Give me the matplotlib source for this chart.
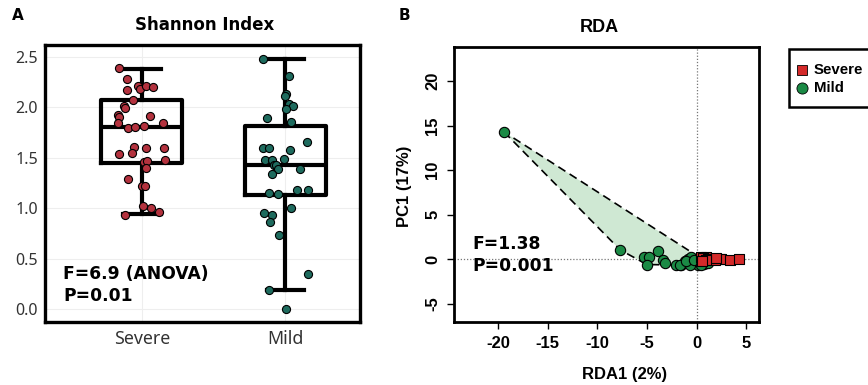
import numpy as np
import matplotlib
matplotlib.use("Agg")
import matplotlib.pyplot as plt
from matplotlib.patches import Polygon, Rectangle

# ---------------- Panel A data (Shannon index) ----------------
categories = ["Severe", "Mild"]
severe_shannon = [2.39, 2.28, 2.17, 2.21, 2.18, 2.21, 2.20, 2.07, 2.01, 1.99, 1.92, 1.90,
                  1.91, 1.84, 1.79, 1.80, 1.81, 1.84, 1.61, 1.60, 1.60, 1.54, 1.55, 1.46,
                  1.47, 1.48, 1.40, 1.29, 1.22, 1.22, 1.02, 1.00, 0.96, 0.93]
severe_jitter = [-0.163, -0.105, -0.105, -0.024, -0.012, 0.028, 0.077, -0.059, -0.128, -0.121,
                 -0.167, -0.163, 0.053, -0.170, -0.098, -0.047, 0.016, 0.147, -0.052, 0.028,
                 0.156, -0.163, -0.070, 0.011, 0.035, 0.163, 0.028, -0.098, 0.000, 0.023,
                 0.007, 0.065, 0.116, -0.121]
mild_shannon = [2.48, 2.31, 2.13, 2.11, 2.03, 2.01, 1.98, 1.89, 1.85, 1.66, 1.60, 1.60,
                1.58, 1.49, 1.48, 1.48, 1.43, 1.43, 1.39, 1.39, 1.34, 1.15, 1.14, 1.18,
                1.18, 1.00, 0.95, 0.93, 0.86, 0.74, 0.35, 0.19, 0.00]
mild_jitter = [-0.151, 0.026, 0.007, 0.000, 0.026, 0.053, 0.005, -0.128, 0.040, 0.151,
               -0.151, -0.116, 0.035, -0.007, -0.140, -0.093, -0.081, -0.063, -0.047, 0.105,
               -0.093, -0.114, -0.053, 0.086, 0.163, 0.042, -0.144, -0.093, -0.105, -0.044,
               0.163, -0.114, 0.007]
box_q1 = [1.45, 1.13]
box_median = [1.80, 1.43]
box_q3 = [2.07, 1.81]
box_whisker_lo = [0.94, 0.19]
box_whisker_hi = [2.38, 2.48]
shannon_ticks = [0.0, 0.5, 1.0, 1.5, 2.0, 2.5]

# ---------------- Panel B data (RDA) ----------------
mild_rda1 = [-19.4, -7.7, -5.3, -4.8, -3.84, -5.0, -3.4, -3.2, -2.05, -1.55, -1.2, -0.9,
             -0.54, -0.2, 0.3, 0.8, 1.15, 0.13, -0.7, -1.7, -1.04, -0.3, 0.5]
mild_pc1 = [14.3, 1.05, 0.3, 0.2, 0.87, -0.6, -0.05, -0.4, -0.6, -0.6, -0.25, 0.05,
            0.3, -0.4, -0.25, -0.5, -0.4, -0.7, -0.6, -0.6, -0.24, -0.1, -0.6]
severe_rda1 = [0.47, 0.98, 1.5, 1.65, 2.33, 2.5, 3.34, 4.28, 0.7, 1.2, 1.9, 2.0, 1.0, 0.6]
severe_pc1 = [0.24, 0.24, 0.05, 0.05, 0.05, 0.0, -0.05, 0.05, 0.1, 0.0, -0.05, 0.1, -0.1, -0.15]
rda_xticks = [-20, -15, -10, -5, 0, 5]
rda_yticks = [-5, 0, 5, 10, 15, 20]
legend_labels = ["Severe", "Mild"]

col_sev_a = "#b3323e"
col_mild_a = "#1e6b5e"
col_sev_b = "#d42a2a"
col_mild_b = "#1b8a45"

W, H = 868, 385
fig = plt.figure(figsize=(W / 100, H / 100), dpi=100)
fig.patch.set_facecolor("white")

def fx(px):
    return px / W

def fy(py):
    return 1 - py / H

BOLD = "DejaVu Sans"

# ================= Panel A =================
axA = fig.add_axes([fx(45), fy(322), (360 - 45) / W, (322 - 45) / H])
axA.set_xlim(-0.677, 1.523)
axA.set_ylim(-0.126, 2.616)
for y in shannon_ticks:
    axA.axhline(y, color="#eeeeee", lw=0.8, zorder=0)
for x in range(len(categories)):
    axA.axvline(x, color="#eeeeee", lw=0.8, zorder=0)

stats = []
for i in range(len(categories)):
    stats.append(dict(med=box_median[i], q1=box_q1[i], q3=box_q3[i],
                      whislo=box_whisker_lo[i], whishi=box_whisker_hi[i], fliers=[]))
lwb = 3.0
axA.bxp(stats, positions=list(range(len(categories))), widths=0.565, capwidths=0.26,
        showfliers=False, patch_artist=False,
        boxprops=dict(color="black", lw=lwb),
        whiskerprops=dict(color="black", lw=lwb),
        capprops=dict(color="black", lw=lwb),
        medianprops=dict(color="black", lw=lwb),
        manage_ticks=False)

axA.scatter(np.array(severe_jitter) + 0, severe_shannon, s=34, c=col_sev_a,
            edgecolors="black", linewidths=0.8, zorder=4)
axA.scatter(np.array(mild_jitter) + 1, mild_shannon, s=34, c=col_mild_a,
            edgecolors="black", linewidths=0.8, zorder=4)

axA.set_xticks(range(len(categories)))
axA.set_xticklabels(categories)
axA.set_yticks(shannon_ticks)
axA.set_yticklabels([f"{v:.1f}" for v in shannon_ticks])
axA.tick_params(length=0, labelsize=11.5, colors="#333333", pad=5)
axA.tick_params(axis="x", labelsize=12.8, pad=6)
for lab in axA.get_xticklabels() + axA.get_yticklabels():
    lab.set_fontfamily("Noto Sans")
for sp in axA.spines.values():
    sp.set_linewidth(2.4)
    sp.set_color("black")

axA.text(0.058, 0.175, "F=6.9 (ANOVA)", transform=axA.transAxes, fontsize=12.3,
         fontweight="bold", family=BOLD, va="center", ha="left")
axA.text(0.058, 0.095, "P=0.01", transform=axA.transAxes, fontsize=12.3,
         fontweight="bold", family=BOLD, va="center", ha="left")

fig.text(fx(205), fy(25), "Shannon Index", ha="center", va="center", fontsize=12,
         fontweight="bold", family=BOLD)
fig.text(fx(12), fy(15), "A", ha="left", va="center", fontsize=11,
         fontweight="bold", family=BOLD)

# ================= Panel B =================
axB = fig.add_axes([fx(454), fy(322), (759 - 454) / W, (322 - 47) / H])
axB.set_xlim(-24.45, 6.3)
axB.set_ylim(-7.06, 23.85)
axB.axhline(0, color="#777777", lw=0.9, ls=(0, (1, 1.5)), zorder=1)
axB.axvline(0, color="#777777", lw=0.9, ls=(0, (1, 1.5)), zorder=1)

def convex_hull(xs, ys):
    pts = sorted(set(zip(xs, ys)))
    def cross(o, a, b):
        return (a[0] - o[0]) * (b[1] - o[1]) - (a[1] - o[1]) * (b[0] - o[0])
    lower, upper = [], []
    for p in pts:
        while len(lower) >= 2 and cross(lower[-2], lower[-1], p) <= 0:
            lower.pop()
        lower.append(p)
    for p in reversed(pts):
        while len(upper) >= 2 and cross(upper[-2], upper[-1], p) <= 0:
            upper.pop()
        upper.append(p)
    return lower[:-1] + upper[:-1]

hull = convex_hull(mild_rda1, mild_pc1)
axB.add_patch(Polygon(hull, closed=True, facecolor="#cfe8d3", edgecolor="none", zorder=2))
axB.add_patch(Polygon(hull, closed=True, facecolor="none", edgecolor="black",
                      lw=1.2, ls=(0, (5, 3)), zorder=2.5))

axB.scatter(mild_rda1, mild_pc1, s=55, marker="o", c=col_mild_b, edgecolors="black",
            linewidths=0.8, zorder=3)
axB.scatter(severe_rda1, severe_pc1, s=48, marker="s", c=col_sev_b, edgecolors="black",
            linewidths=0.8, zorder=4)

axB.set_xticks(rda_xticks)
axB.set_xticklabels([str(v) for v in rda_xticks])
axB.set_yticks(rda_yticks)
axB.set_yticklabels([str(v) for v in rda_yticks], rotation=90, va="center")
axB.tick_params(direction="out", length=5, width=1.0, labelsize=12, pad=5)
for lab in axB.get_xticklabels() + axB.get_yticklabels():
    lab.set_fontfamily("Liberation Sans")
    lab.set_fontweight("bold")
for sp in axB.spines.values():
    sp.set_linewidth(2.0)
    sp.set_color("black")

axB.text(0.06, 0.285, "F=1.38", transform=axB.transAxes, fontsize=12.3,
         fontweight="bold", family=BOLD, va="center", ha="left")
axB.text(0.06, 0.205, "P=0.001", transform=axB.transAxes, fontsize=12.3,
         fontweight="bold", family=BOLD, va="center", ha="left")

fig.text(fx(599), fy(28), "RDA", ha="center", va="center", fontsize=13,
         fontweight="bold", family="Liberation Sans")
fig.text(fx(625), fy(375), "RDA1 (2%)", ha="center", va="center", fontsize=12,
         fontweight="bold", family="Liberation Sans")
fig.text(fx(405), fy(186), "PC1 (17%)", ha="center", va="center", fontsize=12,
         fontweight="bold", family="Liberation Sans", rotation=90)
fig.text(fx(399), fy(15), "B", ha="left", va="center", fontsize=11,
         fontweight="bold", family=BOLD)

# Legend (frame runs off the right edge as in the reference)
fig.add_artist(Rectangle((fx(789), fy(107)), fx(120), (107 - 49) / H, transform=fig.transFigure,
                         facecolor="white", edgecolor="black", lw=1.8, clip_on=True))
fig.add_artist(plt.Line2D([fx(802)], [fy(70)], marker="s", markersize=7, ls="none",
                          markerfacecolor=col_sev_b, markeredgecolor="black",
                          markeredgewidth=0.6, transform=fig.transFigure))
fig.add_artist(plt.Line2D([fx(802)], [fy(88)], marker="o", markersize=8, ls="none",
                          markerfacecolor=col_mild_b, markeredgecolor="black",
                          markeredgewidth=0.6, transform=fig.transFigure))
fig.text(fx(814), fy(70), legend_labels[0], ha="left", va="center", fontsize=10.8,
         fontweight="bold", family="Liberation Sans")
fig.text(fx(814), fy(88), legend_labels[1], ha="left", va="center", fontsize=10.8,
         fontweight="bold", family="Liberation Sans")

fig.savefig("out.png", dpi=100)
